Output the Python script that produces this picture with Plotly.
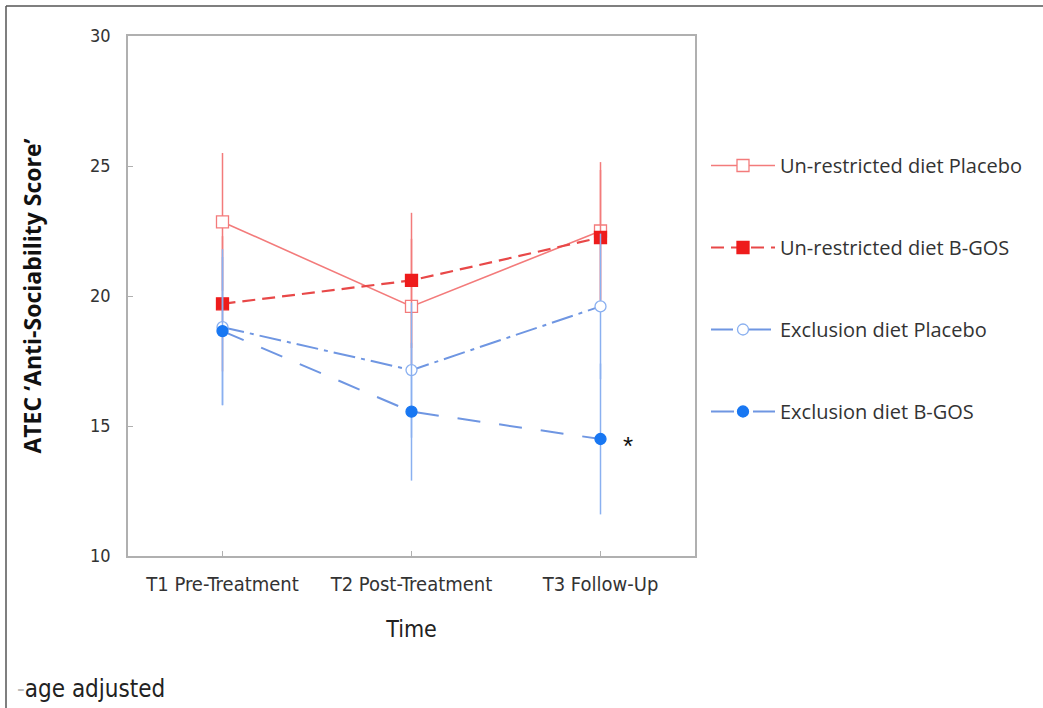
import plotly.graph_objects as go

categories = ["T1 Pre-Treatment", "T2 Post-Treatment", "T3 Follow-Up"]
series_names = ["Un-restricted diet Placebo", "Un-restricted diet B-GOS",
                "Exclusion diet Placebo", "Exclusion diet B-GOS"]
unres_placebo = [22.85, 19.6, 22.5]
unres_placebo_err = [2.65, 2.6, 2.65]
unres_bgos = [19.7, 20.6, 22.25]
unres_bgos_err = [2.6, 2.6, 2.6]
excl_placebo = [18.8, 17.15, 19.6]
excl_placebo_err = [3.0, 2.6, 2.8]
excl_bgos = [18.65, 15.55, 14.5]
excl_bgos_err = [2.85, 2.65, 2.9]

x = [0, 1, 2]
RED_L = "#f37b7b"
RED_D = "#e84848"
RED = "#ee1c1c"
BLUE_L = "#8ab0f0"
BLUE_D = "#6f96e2"
BLUE = "#1877f2"

TICKFONT = "DejaVu Sans Condensed, Liberation Sans Narrow, Liberation Sans"

fig = go.Figure()

def add(name, y, err, line_color, err_color, marker_color, symbol, dash, width, filled, group):
    fig.add_trace(go.Scatter(
        x=x, y=y, name=name, mode="lines+markers",
        legendgroup=group,
        line=dict(color=line_color, width=width, dash=dash),
        marker=dict(symbol=symbol, size=12 if "square" in symbol else 11,
                    color=marker_color if filled else "white",
                    line=dict(color=marker_color if filled else err_color, width=1.3)),
        error_y=dict(type="data", array=err, visible=True, color=err_color,
                     thickness=1.5, width=0),
    ))

add(series_names[0], unres_placebo, unres_placebo_err, RED_L, RED_L, RED, "square", "solid", 1.6, False, "a")
add(series_names[1], unres_bgos, unres_bgos_err, RED_D, RED_L, RED, "square", "13px,7px", 2.2, True, "b")
add(series_names[2], excl_placebo, excl_placebo_err, BLUE_D, BLUE_L, BLUE, "circle", "22px,6px,4px,6px", 2.0, False, "c")
add(series_names[3], excl_bgos, excl_bgos_err, BLUE_D, BLUE_L, BLUE, "circle", "23px,19px", 2.0, True, "d")

# significance marker
fig.add_annotation(x=2, y=excl_bgos[2], xref="x", yref="y", text="*", showarrow=False,
                   xshift=27, yshift=-7, font=dict(size=26, color="#111", family="Liberation Sans"))

def px(p):
    return (p - 128) / 567
def py(p):
    return 1 - (p - 36) / 520

# outer frame
fig.add_shape(type="line", xref="paper", yref="paper", x0=px(6), x1=px(6), y0=py(708), y1=py(6),
              line=dict(color="#555", width=1.5))
fig.add_shape(type="line", xref="paper", yref="paper", x0=px(6), x1=px(1043), y0=py(6), y1=py(6),
              line=dict(color="#555", width=1.5))

fig.add_annotation(x=px(15), y=py(689), xref="paper", yref="paper",
                   text="<span style='color:#bbb'>-</span>age adjusted",
                   showarrow=False, xanchor="left", yanchor="middle",
                   font=dict(size=24, color="#222", family=TICKFONT))

fig.update_layout(
    width=1043, height=708,
    margin=dict(l=128, r=348, t=36, b=152),
    paper_bgcolor="white", plot_bgcolor="white",
    showlegend=True,
    legend=dict(x=px(706), y=py(146), xanchor="left", yanchor="top",
                tracegroupgap=53, itemwidth=64,
                font=dict(size=20, color="#333", family="Open Sans, Liberation Sans"),
                bgcolor="rgba(0,0,0,0)"),
    xaxis=dict(range=[-0.5, 2.5], tickmode="array", tickvals=x, ticktext=categories,
               showgrid=False, zeroline=False, showline=True, linecolor="#b0b0b0", linewidth=1.5,
               mirror=True, ticks="inside", ticklen=5, tickcolor="#b0b0b0",
               ticklabelstandoff=9,
               tickfont=dict(size=20, color="#333", family=TICKFONT),
               title=dict(text="Time", standoff=26,
                          font=dict(size=23, color="#222", family=TICKFONT))),
    yaxis=dict(range=[10, 30], tickvals=[10, 15, 20, 25, 30],
               showgrid=False, zeroline=False, showline=True, linecolor="#b0b0b0", linewidth=1.5,
               mirror=True, ticks="inside", ticklen=5, tickcolor="#b0b0b0",
               ticklabelstandoff=12,
               tickfont=dict(size=18, color="#333", family=TICKFONT),
               title=dict(text="<b>ATEC ‘Anti-Sociability Score’</b>", standoff=42,
                          font=dict(size=23, color="#111", family="Open Sans, Liberation Sans"))),
)

fig.write_html("out.html")
